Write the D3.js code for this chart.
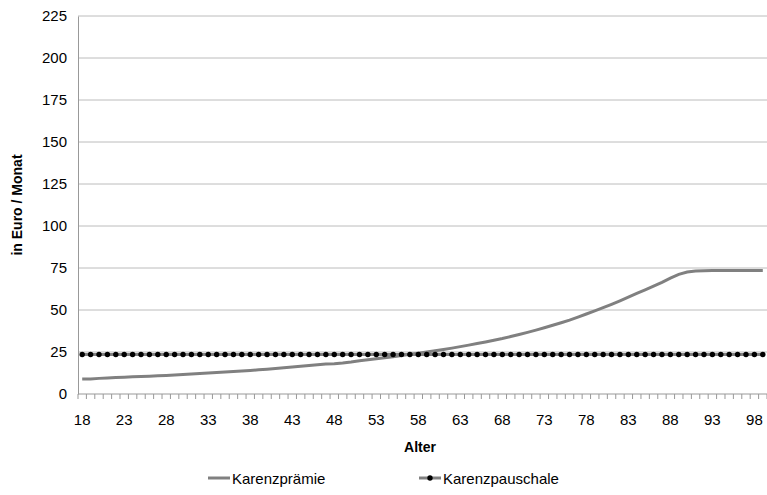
<!DOCTYPE html>
<html><head><meta charset="utf-8">
<script src="https://cdn.jsdelivr.net/npm/d3@7"></script>
<style>body{margin:0;background:#fff}text{font-family:"Liberation Sans",Arial,sans-serif}</style>
</head><body><div id="wrapper"></div>
<script>
const ages = d3.range(18, 100)
const tickLabels = d3.range(18, 100, 5)
const yTicks = [0, 25, 50, 75, 100, 125, 150, 175, 200, 225]
const praemie = [9,9,9.3,9.5,9.8,10,10.2,10.4,10.6,10.8,
  11,11.3,11.6,11.9,12.2,12.5,12.8,13.1,13.4,13.7,
  14,14.4,14.8,15.2,15.6,16,16.5,17,17.4,17.8,
  18,18.4,19,19.8,20.4,21,21.6,22.2,22.9,23.6,
  24.3,25,25.7,26.5,27.3,28.2,29.1,30,31,32,
  33,34.2,35.4,36.7,38,39.4,40.9,42.4,44,45.8,
  47.6,49.5,51.4,53.4,55.5,57.7,59.9,62,64.2,66.5,
  69,71.2,72.6,73.2,73.4,73.5,73.5,73.5,73.5,73.5,73.5,73.5]
const pauschale = ages.map(() => 23.5)

const dimensions = {width: 767, height: 495, margin: {top: 16, right: 0, bottom: 101, left: 78}}
dimensions.boundedWidth = dimensions.width - dimensions.margin.left - dimensions.margin.right
dimensions.boundedHeight = dimensions.height - dimensions.margin.top - dimensions.margin.bottom

const svg = d3.select("#wrapper").append("svg")
  .attr("width", dimensions.width).attr("height", dimensions.height)
const bounds = svg.append("g")
  .attr("transform", `translate(${dimensions.margin.left},${dimensions.margin.top})`)

const xScale = d3.scaleBand().domain(ages).range([0, dimensions.boundedWidth])
const xc = d => xScale(d) + xScale.bandwidth() / 2
const yScale = d3.scaleLinear().domain([0, 225]).range([dimensions.boundedHeight, 0])

// grid
bounds.selectAll(".grid").data(yTicks.slice(1)).join("line")
  .attr("x1", 0).attr("x2", dimensions.boundedWidth)
  .attr("y1", d => yScale(d)).attr("y2", d => yScale(d))
  .attr("stroke", "#bcbcbc").attr("stroke-width", 1)

// y axis
const yAxis = bounds.append("g").call(d3.axisLeft(yScale).tickValues(yTicks).tickSize(0).tickPadding(11))
yAxis.select(".domain").attr("stroke", "#999")
yAxis.selectAll("text").attr("font-size", 15).attr("fill", "#000")

// x axis
const xAxis = bounds.append("g").attr("transform", `translate(0,${dimensions.boundedHeight})`)
xAxis.append("line").attr("x1", 0).attr("x2", dimensions.boundedWidth).attr("stroke", "#999")
xAxis.selectAll(".tk").data(ages.concat([100])).join("line")
  .attr("x1", d => d === 100 ? dimensions.boundedWidth : xScale(d))
  .attr("x2", d => d === 100 ? dimensions.boundedWidth : xScale(d))
  .attr("y1", 0).attr("y2", 5).attr("stroke", "#999")
xAxis.selectAll(".lbl").data(tickLabels).join("text")
  .attr("x", xc).attr("y", 31).attr("text-anchor", "middle")
  .attr("font-size", 15).text(d => d)

// lines
bounds.append("path").datum(praemie)
  .attr("d", d3.line().x((d, i) => xc(ages[i])).y(d => yScale(d)))
  .attr("fill", "none").attr("stroke", "#808080").attr("stroke-width", 3)
bounds.append("path").datum(pauschale)
  .attr("d", d3.line().x((d, i) => xc(ages[i])).y(d => yScale(d)))
  .attr("fill", "none").attr("stroke", "#808080").attr("stroke-width", 3)
bounds.selectAll(".dot").data(pauschale).join("circle")
  .attr("cx", (d, i) => xc(ages[i])).attr("cy", d => yScale(d)).attr("r", 2.7).attr("fill", "#000")

// labels
svg.append("text").attr("x", 420).attr("y", 452).attr("text-anchor", "middle")
  .attr("font-size", 14).attr("font-weight", "bold").text("Alter")
svg.append("text").attr("transform", "translate(22,205) rotate(-90)").attr("text-anchor", "middle")
  .attr("font-size", 14).attr("font-weight", "bold").text("in Euro / Monat")

// legend
const lg = svg.append("g").attr("transform", "translate(208,478)")
lg.append("line").attr("x1", 0).attr("x2", 22).attr("stroke", "#808080").attr("stroke-width", 3)
lg.append("text").attr("x", 24).attr("y", 5.5).attr("font-size", 15).text("Karenzprämie")
const lg2 = svg.append("g").attr("transform", "translate(419,478)")
lg2.append("line").attr("x1", 0).attr("x2", 22).attr("stroke", "#808080").attr("stroke-width", 3)
lg2.append("circle").attr("cx", 11).attr("r", 2.7).attr("fill", "#000")
lg2.append("text").attr("x", 24).attr("y", 5.5).attr("font-size", 15).text("Karenzpauschale")
</script></body></html>
